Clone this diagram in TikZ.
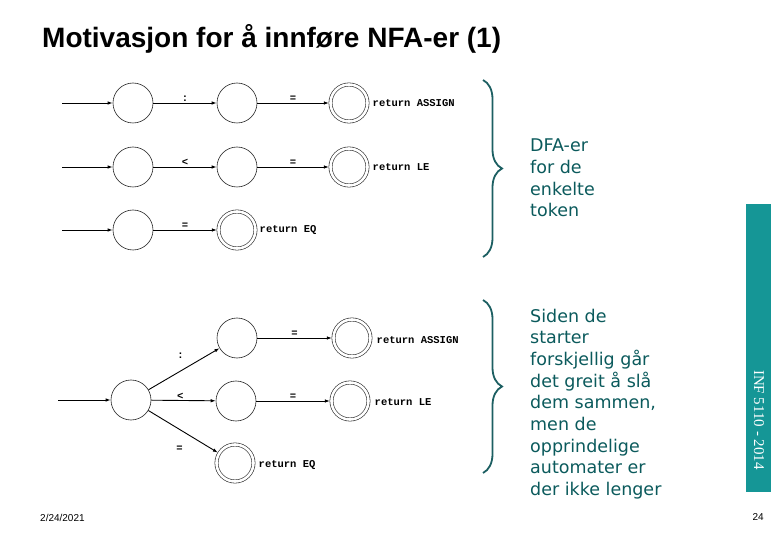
\documentclass[tikz,border=0pt]{standalone}
\usepackage{fontspec}
\setmainfont{Liberation Sans}
\newfontfamily\monofont{Liberation Mono}
\newfontfamily\notefont{DejaVu Sans}
\newfontfamily\serifnt{Liberation Serif}
\usetikzlibrary{decorations.pathreplacing,arrows.meta}
\definecolor{barteal}{HTML}{159696}
\definecolor{noteteal}{HTML}{0B5A5C}
\definecolor{bracecol}{HTML}{1D5F62}
\begin{document}
\begin{tikzpicture}[x=1pt,y=-1pt,
  st/.style={circle,draw=black!85,line width=0.6pt,minimum size=40pt,inner sep=0pt},
  acc/.style={circle,draw=black!85,line width=0.6pt,double,double distance=2.6pt,minimum size=37pt,inner sep=0pt,outer sep=1.6pt},
  trans/.style={-{Latex[length=5pt,width=3.5pt]},line width=0.9pt},
  lbl/.style={font=\monofont\bfseries\fontsize{10.5}{10.5}\selectfont,inner sep=0.5pt},
  note/.style={font=\notefont\fontsize{17.5}{21.7}\selectfont,text=noteteal,align=left,inner sep=0pt},
  bracestyle/.style={draw=bracecol,line width=1.8pt,decorate,decoration={brace,amplitude=19pt}}
]
\useasboundingbox (0,0) rectangle (780,540);

\node[anchor=base west,inner sep=0pt,font=\bfseries\fontsize{28}{28}\selectfont] (title) at (42,48) {Motivasjon for å innføre NFA-er (1)};

% DFA row 1
\coordinate (s1) at (62,103);
\node[st] (a1) at (133,103) {};
\node[st] (b1) at (237,103) {};
\node[acc] (c1) at (349,103) {};
\draw[trans] (s1) -- (a1);
\draw[trans] (a1) -- node[lbl,above=0.5pt] {:} (b1);
\draw[trans] (b1) -- node[lbl,above=0.5pt] {=} (c1);
\node[lbl,anchor=west] (r1) at (372,103) {return ASSIGN};

% DFA row 2
\coordinate (s2) at (62,167);
\node[st] (a2) at (133,167) {};
\node[st] (b2) at (237,167) {};
\node[acc] (c2) at (349,167) {};
\draw[trans] (s2) -- (a2);
\draw[trans] (a2) -- node[lbl,above=0.5pt] {<} (b2);
\draw[trans] (b2) -- node[lbl,above=0.5pt] {=} (c2);
\node[lbl,anchor=west] (r2) at (372,167) {return LE};

% DFA row 3
\coordinate (s3) at (62,230);
\node[st] (a3) at (133,230) {};
\node[acc] (c3) at (237,230) {};
\draw[trans] (s3) -- (a3);
\draw[trans] (a3) -- node[lbl,above=0.5pt] {=} (c3);
\node[lbl,anchor=west] (r3) at (259,230) {return EQ};

% NFA
\coordinate (s0) at (58,400);
\node[st] (n0) at (131,400) {};
\node[st] (n1) at (237,338) {};
\node[acc] (n2) at (352,338) {};
\node[st] (n3) at (236,401) {};
\node[acc] (n4) at (350,401) {};
\node[acc] (n5) at (235,463) {};
\draw[trans] (s0) -- (n0);
\draw[trans] (n0) -- node[lbl,pos=0.45,above=12pt] {:} (n1);
\draw[trans] (n0) -- node[lbl,pos=0.45,above=0.5pt] {<} (n3);
\draw[trans] (n0) -- node[lbl,pos=0.45,below=16pt] {=} (n5);
\draw[trans] (n1) -- node[lbl,above=0.5pt] {=} (n2);
\draw[trans] (n3) -- node[lbl,above=0.5pt] {=} (n4);
\node[lbl,anchor=west] (q1) at (376,340) {return ASSIGN};
\node[lbl,anchor=west] (q2) at (374,402) {return LE};
\node[lbl,anchor=west] (q3) at (258,465) {return EQ};

% braces
\coordinate (bt1) at (483,80);
\coordinate (bb1) at (483,257);
\coordinate (bt2) at (483,300);
\coordinate (bb2) at (483,473);
\draw[bracestyle] (bt1) -- (bb1);
\draw[bracestyle] (bt2) -- (bb2);

% notes (base anchor = baseline of last line)
\node[note,anchor=base west] (note1) at (530,217) {DFA-er\\for de\\enkelte\\token};
\node[note,anchor=base west] (note2) at (530,495.6) {Siden de\\starter\\forskjellig går\\det greit å slå\\dem sammen,\\men de\\opprindelige\\automater er\\der ikke lenger};

% side bar
\fill[barteal] (746,204) rectangle (771,492);
\node[rotate=-90,text=white,font=\serifnt\fontsize{15}{15}\selectfont] (inf) at (759,420) {INF 5110 - 2014};

% footer
\node[anchor=base west,inner sep=0pt,font=\fontsize{10}{10}\selectfont] (date) at (40,521) {2/24/2021};
\node[anchor=base east,inner sep=0pt,font=\fontsize{10}{10}\selectfont] (page) at (764,520) {24};
\end{tikzpicture}
\end{document}
